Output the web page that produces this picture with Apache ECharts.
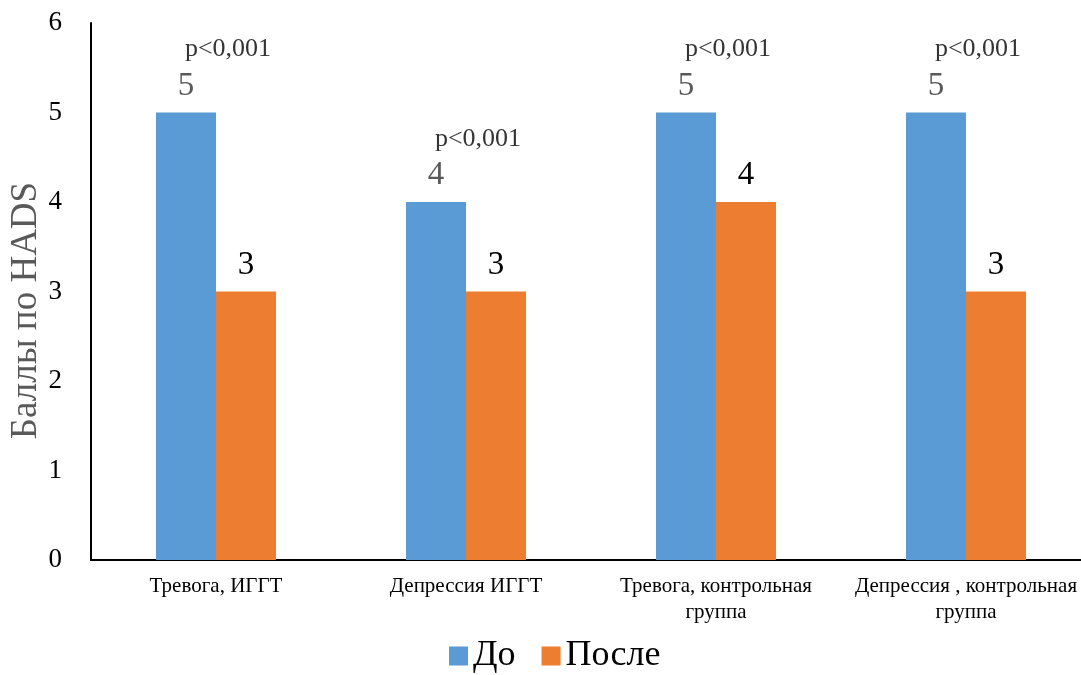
<!DOCTYPE html>
<html>
<head>
<meta charset="utf-8">
<script src="https://cdn.jsdelivr.net/npm/echarts@6/dist/echarts.min.js"></script>
<style>html,body{margin:0;padding:0;background:#fff;overflow:hidden;width:1081px;height:675px}#c{width:1091px;height:675px}</style>
</head>
<body>
<div id="c"></div>
<script>
const categories = ['Тревога, ИГГТ', 'Депрессия ИГГТ', 'Тревога, контрольная\nгруппа', 'Депрессия , контрольная\nгруппа'];
const seriesNames = ['До', 'После'];
const before = [5, 4, 5, 5];
const after = [3, 3, 4, 3];
const pLabels = ['p<0,001', 'p<0,001', 'p<0,001', 'p<0,001'];
const yTicks = [0, 1, 2, 3, 4, 5, 6];

const serif = 'Liberation Serif';
const chart = echarts.init(document.getElementById('c'));
chart.setOption({
  animation: false,
  textStyle: { fontFamily: serif },
  grid: { left: 91, right: 0, top: 23, bottom: 115, containLabel: false, outerBoundsMode: 'none' },
  legend: {
    data: seriesNames,
    bottom: -4,
    left: 444,
    itemWidth: 19,
    itemHeight: 19,
    itemGap: 26,
    icon: 'rect',
    textStyle: { fontFamily: serif, fontSize: 36, color: '#000' }
  },
  xAxis: {
    type: 'category',
    data: categories,
    axisLine: { lineStyle: { color: '#000', width: 2 } },
    axisTick: { show: false },
    axisLabel: { fontFamily: serif, fontSize: 21, color: '#000', lineHeight: 26, margin: 13, interval: 0 }
  },
  yAxis: {
    type: 'value',
    min: 0, max: 6, interval: 1,
    name: 'Баллы по HADS',
    nameLocation: 'middle',
    nameGap: 46,
    nameMoveOverlap: false,
    nameTextStyle: { fontFamily: serif, fontSize: 37, color: '#595959', padding: [0, 38, 0, 0] },
    axisLine: { show: true, lineStyle: { color: '#000', width: 2 } },
    axisTick: { show: false },
    splitLine: { show: false },
    axisLabel: { fontFamily: serif, fontSize: 27, color: '#000', margin: 29,
      formatter: v => yTicks.includes(v) ? String(v) : '' }
  },
  series: [
    {
      name: seriesNames[0], type: 'bar', data: before, barWidth: 60, barGap: '0%',
      itemStyle: { color: '#5B9BD5' },
      label: { show: true, position: 'top', distance: 10, fontFamily: serif, fontSize: 33, color: '#595959' }
    },
    {
      name: seriesNames[1], type: 'bar', data: after, barWidth: 60, barGap: '0%',
      itemStyle: { color: '#ED7D31' },
      label: { show: true, position: 'top', distance: 10, fontFamily: serif, fontSize: 33, color: '#000' }
    },
    {
      type: 'scatter', symbolSize: 0, silent: true,
      data: before.map((v, i) => [i, v]),
      label: { show: true, position: 'inside', offset: [12, -63], fontFamily: serif, fontSize: 26, color: '#000',
        formatter: p => pLabels[p.dataIndex] }
    }
  ]
});
</script>
</body>
</html>
